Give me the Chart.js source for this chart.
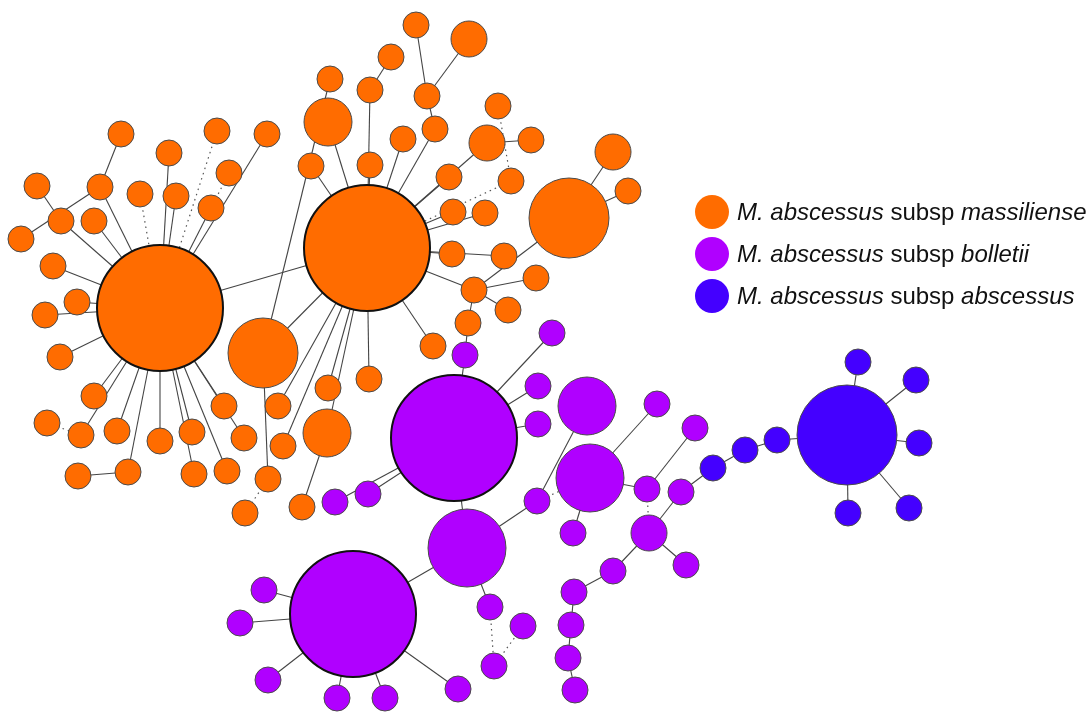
<!DOCTYPE html>
<html>
<head>
<meta charset="utf-8">
<script src="https://cdn.jsdelivr.net/npm/chart.js@4.4.1/dist/chart.umd.min.js"></script>
<style>
  body { margin: 0; background: #fff; }
  #wrap { position: relative; width: 1091px; height: 712px; }
  #legend { position: absolute; left: 695px; top: 191px; font-family: "Liberation Sans", Arial, sans-serif; font-size: 24px; color: #111; white-space: nowrap; }
  .item { display: flex; align-items: center; height: 42px; }
  .dot { width: 34px; height: 34px; border-radius: 50%; margin-right: 8px; flex: none; }
</style>
</head>
<body>
<div id="wrap">
  <canvas id="net" width="1091" height="712"></canvas>
  <div id="legend"></div>
</div>
<script>
// groups
let groupLabels = ['<i>M. abscessus</i> subsp <i>massiliense</i>', '<i>M. abscessus</i> subsp <i>bolletii</i>', '<i>M. abscessus</i> subsp <i>abscessus</i>'];
let groupColors = ['#ff6c00', '#b000ff', '#4400ff'];

// nodes (layout position + radius)
let nodeId = ['A','B','C','D','E','F','G','H','I',
  'o1','o2','o3','o4','o5','o6','o7','o8','o9','o10','o11','o12','o13','o14','o15','o16','o17','o18','o19','o20',
  'o21','o22','o23','o24','o25','o26','o27','o28','o29','o30','o31','o32','o33','o34','o35','o36','o37','o38','o39','o40',
  'o41','o42','o43','o44','o45','o46','o47','o48','o49','o50','o51','o52','o53','o54','o55','o56','o57','o58','o59',
  'P1','P2','P3','P4','P5','P6',
  'p1','p2','p3','p4','p5','p6','p7','p8','p9','p10','p11','p12','p13','p14','p15','p16','p17','p18','p19','p20',
  'p21','p22','p23','p24','p25','p26','p27',
  'Q1','b1','b2','b3','b4','b5','b6','b7','b8'];
let nodeX = [160,367,263,569,328,327,469,487,613,
  121,217,267,169,229,37,100,140,176,211,61,94,21,53,77,45,60,94,47,81,
  117,160,192,224,244,78,128,194,227,311,330,370,391,416,427,435,403,370,449,498,
  531,511,453,485,452,504,474,536,508,468,433,628,369,328,278,283,268,245,302,
  454,353,467,587,590,649,
  465,552,538,538,335,368,537,573,657,695,647,681,686,613,574,571,568,575,264,240,
  268,337,385,458,490,523,494,
  847,713,745,777,858,916,919,909,848];
let nodeY = [308,248,353,218,122,433,39,143,152,
  134,131,134,153,173,186,187,194,196,208,221,221,239,266,302,315,357,396,423,435,
  431,441,432,406,438,476,472,474,471,166,79,90,57,25,96,129,139,165,177,106,
  140,181,212,213,254,256,290,278,310,323,346,191,379,388,406,446,479,513,507,
  438,614,548,406,478,533,
  355,333,386,424,502,494,501,533,404,428,489,492,565,571,592,625,658,690,590,623,
  680,698,698,689,607,626,666,
  435,468,450,440,362,380,443,508,513];
let nodeR = [63,63,35,40,24,24,18,18,18,
  13,13,13,13,13,13,13,13,13,13,13,13,13,13,13,13,13,13,13,13,
  13,13,13,13,13,13,13,13,13,13,13,13,13,13,13,13,13,13,13,13,
  13,13,13,13,13,13,13,13,13,13,13,13,13,13,13,13,13,13,13,
  63,63,39,29,34,18,
  13,13,13,13,13,13,13,13,13,13,13,13,13,13,13,13,13,13,13,13,
  13,13,13,13,13,13,13,
  50,13,13,13,13,13,13,13,13];
let nodeGroup = [0,0,0,0,0,0,0,0,0,
  0,0,0,0,0,0,0,0,0,0,0,0,0,0,0,0,0,0,0,0,
  0,0,0,0,0,0,0,0,0,0,0,0,0,0,0,0,0,0,0,0,
  0,0,0,0,0,0,0,0,0,0,0,0,0,0,0,0,0,0,0,
  1,1,1,1,1,1,
  1,1,1,1,1,1,1,1,1,1,1,1,1,1,1,1,1,1,1,1,
  1,1,1,1,1,1,1,
  2,2,2,2,2,2,2,2,2];

// edges
let solidEdges = [
  ['A','B'],['B','C'],['o31','C'],['A','o7'],['o7','o1'],['o7','o13'],['o6','o11'],['o11','A'],['o12','A'],
  ['o4','A'],['o9','A'],['o10','A'],['o3','A'],['o14','A'],['o15','A'],['o16','A'],['o17','A'],['o18','A'],
  ['o20','A'],['o21','A'],['o27','A'],['o26','o27'],['o22','A'],['o23','A'],['o28','A'],['o29','A'],['o24','A'],['o25','A'],
  ['B','E'],['B','o30'],['B','o32'],['o32','o33'],['B','o38'],['o34','o35'],['G','o35'],['o35','o36'],['o36','B'],
  ['o37','B'],['H','B'],['o39','B'],['H','o41'],['o43','B'],['o44','B'],['o45','B'],['o46','B'],['o47','B'],
  ['o47','D'],['o47','o48'],['o47','o49'],['o47','o50'],['o50','p1'],['o51','B'],['D','I'],['D','o52'],
  ['B','o55'],['B','o56'],['B','o54'],['B','F'],['B','o53'],['F','o59'],['C','o57'],
  ['P1','p1'],['P1','p2'],['P1','p3'],['P1','p4'],['P1','p5'],['P1','p6'],['P1','P3'],['P3','P2'],['P3','p7'],
  ['P3','p25'],['P4','p7'],['P5','p9'],['P5','p11'],['P5','p8'],['p11','p10'],['P6','p12'],['P6','p13'],['P6','p14'],
  ['p14','p15'],['p15','p16'],['p16','p17'],['p17','p18'],['P2','p19'],['P2','p20'],['P2','p21'],['P2','p22'],
  ['P2','p23'],['P2','p24'],['p12','b1'],
  ['b1','b2'],['b2','b3'],['b3','Q1'],['Q1','b4'],['Q1','b5'],['Q1','b6'],['Q1','b7'],['Q1','b8']
];
let dottedEdges = [
  ['o8','A'],['o2','A'],['o5','o10'],['o40','o42'],['o42','B'],['o57','o58'],['o19','o20'],
  ['p25','p27'],['p27','p26'],['p11','P6'],['p7','P5']
];

function pt(id) {
  let i = nodeId.indexOf(id);
  return { x: nodeX[i], y: nodeY[i] };
}

let datasets = [];
// nodes, one bubble dataset per group (drawn on top)
for (let g = 0; g < groupColors.length; g++) {
  let data = [];
  for (let i = 0; i < nodeId.length; i++) {
    if (nodeGroup[i] == g) data.push({ x: nodeX[i], y: nodeY[i], r: nodeR[i] });
  }
  datasets.push({
    type: 'bubble',
    data: data,
    backgroundColor: groupColors[g],
    borderColor: (c) => c.raw && c.raw.r > 55 ? '#111' : '#4a4a4a',
    borderWidth: (c) => c.raw && c.raw.r > 55 ? 2 : 1,
    order: 0,
    clip: false
  });
}
// edges drawn underneath
for (let e of solidEdges) {
  datasets.push({ type: 'line', data: [pt(e[0]), pt(e[1])], borderColor: '#444', borderWidth: 1.1,
    pointRadius: 0, fill: false, order: 1, clip: false });
}
for (let e of dottedEdges) {
  datasets.push({ type: 'line', data: [pt(e[0]), pt(e[1])], borderColor: '#555', borderWidth: 1.2,
    borderDash: [1.5, 4], pointRadius: 0, fill: false, order: 1, clip: false });
}

let chart = new Chart(document.getElementById('net'), {
  type: 'bubble',
  data: { datasets: datasets },
  options: {
    responsive: false,
    animation: false,
    events: [],
    layout: { padding: 0, autoPadding: false },
    scales: {
      x: { type: 'linear', min: 0, max: 1091, display: false },
      y: { type: 'linear', min: 0, max: 712, reverse: true, display: false }
    },
    plugins: { legend: { display: false }, tooltip: { enabled: false } }
  }
});

// html legend with italic species names
let leg = document.getElementById('legend');
for (let g = 0; g < groupLabels.length; g++) {
  leg.innerHTML += `<div class="item"><span class="dot" style="background:${groupColors[g]}"></span><span>${groupLabels[g]}</span></div>`;
}
</script>
</body>
</html>
